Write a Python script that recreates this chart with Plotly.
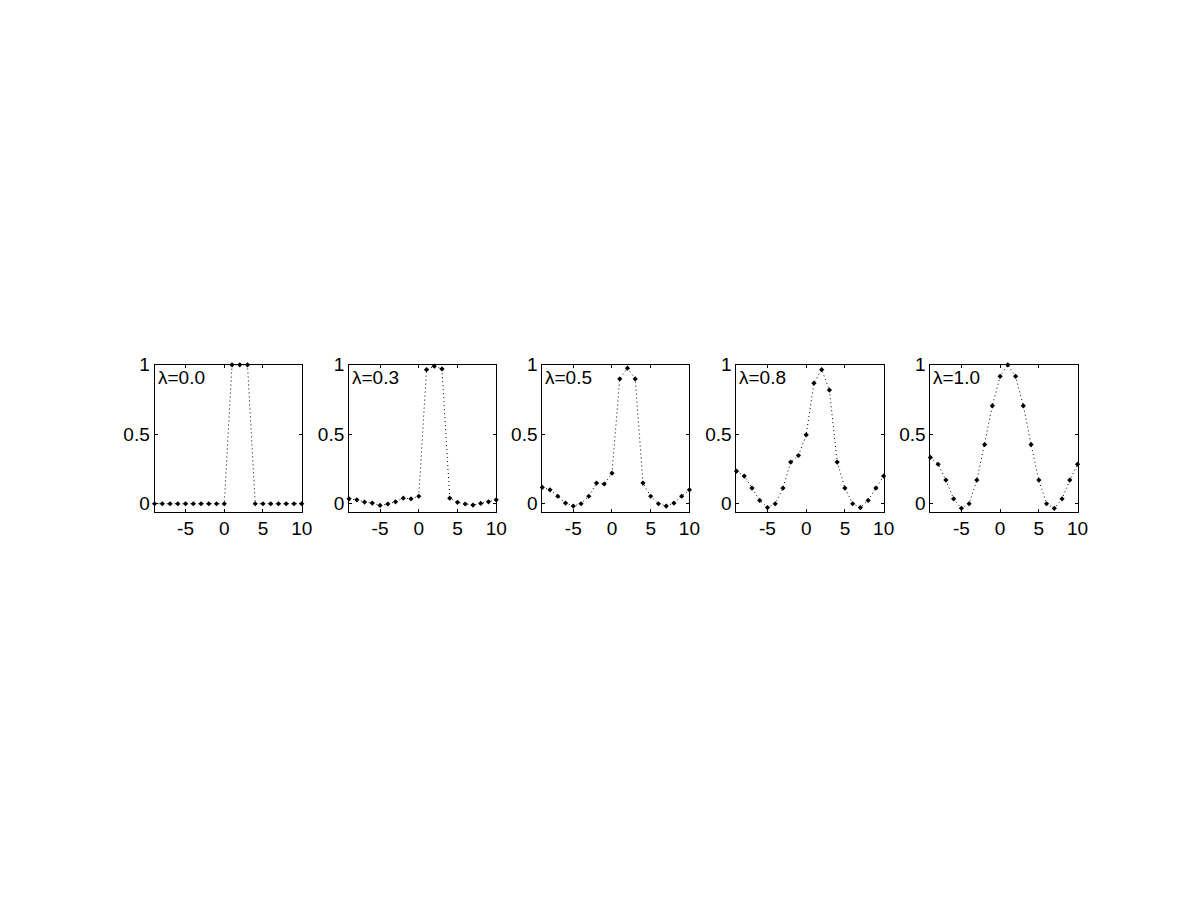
import plotly.graph_objects as go

x_vals = list(range(-9, 11))
labels = ["λ=0.0", "λ=0.3", "λ=0.5", "λ=0.8", "λ=1.0"]

y_l00 = [0, 0, 0, 0, 0, 0, 0, 0, 0, 0, 1, 1, 1, 0, 0, 0, 0, 0, 0, 0]
y_l03 = [0.035, 0.028, 0.012, 0.005, -0.012, -0.002, 0.014, 0.04, 0.035, 0.054,
         0.965, 0.99, 0.97, 0.04, 0.01, -0.002, -0.01, 0.002, 0.014, 0.028]
y_l05 = [0.118, 0.10, 0.054, 0.005, -0.017, 0.0, 0.054, 0.149, 0.142, 0.22,
         0.898, 0.976, 0.898, 0.149, 0.054, 0.0, -0.017, 0.005, 0.054, 0.10]
y_l08 = [0.234, 0.199, 0.113, 0.024, -0.028, 0.0, 0.113, 0.30, 0.347, 0.496,
         0.868, 0.965, 0.818, 0.30, 0.113, 0.0, -0.028, 0.024, 0.113, 0.199]
y_l10 = [0.333, 0.284, 0.17, 0.035, -0.033, 0.0, 0.17, 0.426, 0.705, 0.917,
         1.0, 0.917, 0.705, 0.426, 0.17, 0.0, -0.033, 0.035, 0.17, 0.284]
series = [y_l00, y_l03, y_l05, y_l08, y_l10]

x_ticks = [-5, 0, 5, 10]
x_ticktext = ["-5", "0", "5", "10"]
y_ticks = [0, 0.5, 1]
y_ticktext = ["0", "0.5", "1"]
x_range = [-9, 10]
y_range = [-0.057, 1]

W, H = 1201, 900
lefts = [156, 352.3, 547.3, 743.3, 939]
pw = 148.5
top_px, bot_px = 360, 509

fig = go.Figure()
font = dict(family="Arial", size=19, color="black")

for i, ys in enumerate(series):
    n = "" if i == 0 else str(i + 1)
    fig.add_trace(go.Scatter(
        x=x_vals, y=ys, mode="lines+markers",
        line=dict(color="black", width=1, dash="1px,3px"),
        marker=dict(symbol="diamond", size=4, color="black"),
        xaxis="x" + n, yaxis="y" + n, showlegend=False, cliponaxis=False))
    axcommon = dict(showline=True, linecolor="black", linewidth=1, mirror="ticks",
                    ticks="inside", ticklen=3, tickcolor="black", showgrid=False,
                    zeroline=False, tickfont=font)
    fig.update_layout(**{
        "xaxis" + n: dict(domain=[lefts[i] / W, (lefts[i] + pw) / W], range=x_range,
                          tickvals=x_ticks, ticktext=x_ticktext, anchor="y" + n,
                          **axcommon),
        "yaxis" + n: dict(domain=[(H - bot_px) / H, (H - top_px) / H], range=y_range,
                          tickvals=y_ticks, ticktext=y_ticktext,
                          anchor="x" + n, **axcommon),
    })
    fig.add_annotation(text=labels[i], xref="x" + n + " domain", yref="y" + n + " domain",
                       x=0, y=1, xanchor="left", yanchor="top", xshift=1, yshift=0,
                       showarrow=False, font=font)

fig.update_layout(width=W, height=H, margin=dict(l=0, r=0, t=0, b=0),
                  paper_bgcolor="white", plot_bgcolor="white")
fig.write_html("out.html")
